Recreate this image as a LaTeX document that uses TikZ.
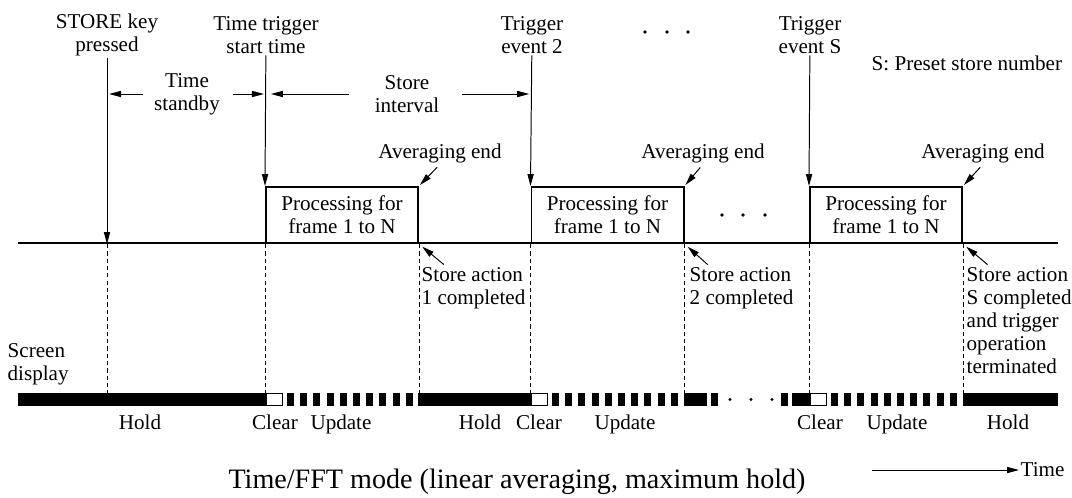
\documentclass[tikz,border=0pt]{standalone}
\usepackage{fontspec}
\setmainfont{Liberation Serif}
\usetikzlibrary{arrows.meta}

\begin{document}
\begin{tikzpicture}[x=0.025cm, y=-0.025cm, line join=miter,
  >={Triangle[length=8.5pt,width=4.4pt]},
  lbl/.style={font=\fontsize{15}{16.4}\selectfont, align=center, inner sep=1pt},
  lblleft/.style={lbl, align=left, anchor=north west},
  barlbl/.style={lbl, anchor=base},
  procbox/.style={draw, line width=1.4pt, minimum width=3.8cm, minimum height=1.4cm,
    font=\fontsize{15}{16.4}\selectfont, align=center, inner sep=1pt},
  guide/.style={line width=0.6pt, dash pattern=on 3pt off 2.2pt},
  evt/.style={->, line width=0.7pt},
  ptr/.style={->, line width=0.7pt, shorten <=3pt, shorten >=1pt}]

\useasboundingbox (0,0) rectangle (1072,498);

% Event labels on top
\node[lbl] (key) at (107,35) {STORE key\\pressed};
\node[lbl] (start) at (266,35) {Time trigger\\start time};
\node[lbl] (ev2) at (532,35) {Trigger\\event 2};
\node[lbl] (evS) at (810,35) {Trigger\\event S};
\node[lbl, anchor=west] (note) at (870,63) {S: Preset store number};
\foreach \x in {645,667,688} \fill (\x,32) circle (1.4pt);

% Time line and processing boxes
\draw[line width=1.3pt] (18,243) -- (1058,243);
\node[procbox] (p1) at (342,215) {Processing for\\frame 1 to N};
\node[procbox] (p2) at (607.5,215) {Processing for\\frame 1 to N};
\node[procbox] (p3) at (886,215) {Processing for\\frame 1 to N};
\foreach \x in {722,743,765} \fill (\x,215) circle (1.4pt);

% Event arrows
\draw[evt] (key.south) -- (key.south |- p1.south);
\draw[evt] (start) -- (p1.north west);
\draw[evt] (ev2) -- (p2.north west);
\draw[evt] (evS) -- (p3.north west);

% Standby and interval
\node[lbl] (stby) at (187,94) {Time\\standby};
\node[lbl] (intv) at (407,94) {Store\\interval};
\draw[evt, shorten <=7pt, shorten >=1.5pt] (stby.west) -- (key.south |- stby.west);
\draw[evt, shorten <=8.5pt, shorten >=1.5pt] (stby.east) -- (start.south |- stby.east);
\draw[evt, shorten <=17pt, shorten >=3.5pt] (intv.west) -- (start.south |- intv.west);
\draw[evt, shorten <=15pt, shorten >=2pt] (intv.east) -- (ev2.south |- intv.east);

% Averaging end
\node[lbl] (ae1) at (440,153) {Averaging end};
\node[lbl] (ae2) at (703,153) {Averaging end};
\node[lbl] (ae3) at (983,153) {Averaging end};
\draw[ptr] (ae1.south) -- (p1.north east);
\draw[ptr] (ae2.south) -- (p2.north east);
\draw[ptr] (ae3.south) -- (p3.north east);

% Store actions
\node[lblleft] (sa1) at (420,266) {Store action\\1 completed};
\node[lblleft] (sa2) at (688,266) {Store action\\2 completed};
\node[lblleft] (sa3) at (965,266) {Store action\\S completed\\and trigger\\operation\\terminated};
\draw[ptr, shorten <=0pt, shorten >=3pt] ([xshift=17pt,yshift=1pt]sa1.north west) -- (p1.south east);
\draw[ptr, shorten <=0pt, shorten >=3pt] ([xshift=14pt,yshift=1pt]sa2.north west) -- (p2.south east);
\draw[ptr, shorten <=0pt, shorten >=3pt] ([xshift=16pt,yshift=1pt]sa3.north west) -- (p3.south east);

% Guide lines down to the screen display
\coordinate (bar) at (0,393);
\foreach \c in {key.south,p1.south west,p1.south east,p2.south west,p2.south east,p3.south west,p3.south east}
  \draw[guide] (\c |- p1.south) -- (\c |- bar);

% Screen display bar
\node[lblleft, anchor=west] (scr) at (6,364) {Screen\\display};
\fill (18,393) rectangle (266,406);
\fill (418,393) rectangle (531,406);
\fill (684,393) rectangle (707,406);
\fill (711,393) rectangle (718,406);
\foreach \x in {730,751,772} \fill (\x,399.5) circle (1.1pt);
\fill (781,393) rectangle (788,406);
\fill (792,393) rectangle (810,406);
\fill (963,393) rectangle (1058,406);
\foreach \c in {266,531,810} {
  \draw[fill=white, line width=0.6pt] (\c+0.5,393.5) rectangle (\c+16,405.5);
  \foreach \i in {0,...,9}
    \fill (\c+21+13.2*\i,393) rectangle ++(7,13);
}
\foreach \x/\t [count=\i] in {140/Hold,275/Clear,341/Update,480/Hold,539/Clear,625/Update,820/Clear,897/Update,1008/Hold}
  \node[barlbl] (bl\i) at (\x,429) {\t};

% Caption and time direction
\node[font=\fontsize{20}{22}\selectfont, inner sep=0pt] (cap) at (517,482) {Time/FFT mode (linear averaging, maximum hold)};
\coordinate (tstart) at (872,470);
\node[lbl, anchor=west] (tm) at (1019,470) {Time};
\draw[evt] (tstart) -- (tm.west);
\end{tikzpicture}
\end{document}
